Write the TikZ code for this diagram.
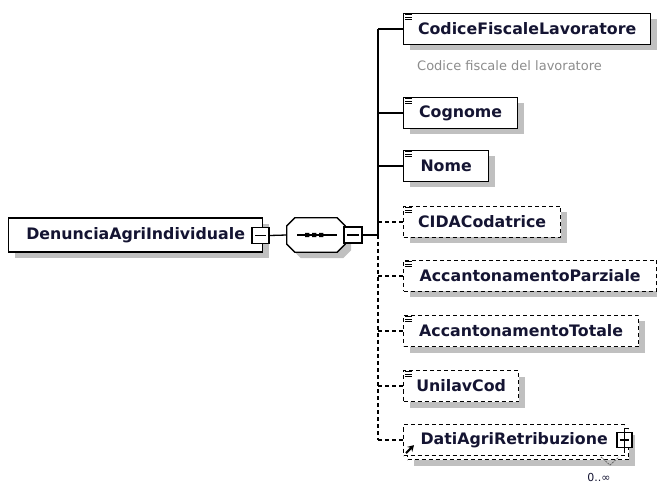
\documentclass[tikz,border=0pt]{standalone}
\usepackage{fontspec}
\setmainfont{DejaVu Sans}
\usetikzlibrary{shadows,arrows.meta}
\definecolor{txt}{RGB}{20,20,50}
\definecolor{desc}{RGB}{140,140,140}
\definecolor{shd}{RGB}{192,192,192}
\newcommand\eqic[1]{\draw[line width=0.8pt, black, shift={(#1.north west)}] (2,2)--(9,2) (2,4.3)--(9,4.3) (2,6.6)--(9,6.6);}
\tikzset{
  ln/.style={line width=1.3pt, black},
  dsh/.style={dash pattern=on 4pt off 3pt},
  shd/.style={drop shadow={shadow xshift=6pt, shadow yshift=-6pt, fill=shd, opacity=1}},
  elemns/.style={draw=black, line width=1.3pt, fill=white, anchor=west, minimum height=31pt,
    inner sep=0pt, text=txt, font=\bfseries\fontsize{15.8}{19}\selectfont},
  elem/.style={elemns, shd},
  opt/.style={elem, dsh},
  optns/.style={elemns, dsh},
  pm/.style={draw=black, line width=1.2pt, fill=white, minimum width=17pt, minimum height=16pt, inner sep=0pt,
    path picture={\draw[line width=1.1pt] ([xshift=3pt]path picture bounding box.west) -- ([xshift=-3pt]path picture bounding box.east);}},
  seqbox/.style={minimum width=58pt, minimum height=34pt, inner sep=0pt}
}
\begin{document}
\begin{tikzpicture}[x=1pt,y=-1pt]
\useasboundingbox (0,0) rectangle (657,484);
\clip (0,0) rectangle (657,484);
% root
\node[elem, minimum width=254pt, minimum height=34pt] (root) at (8,235) {DenunciaAgriIndividuale\hspace{6pt}};
\node[pm] (m1) at (260.5,235.5) {};
\node[seqbox] (seq) at (316,235) {};
\draw[ln, fill=white, shd] ([xshift=8pt]seq.north west) -- ([xshift=-8pt]seq.north east) -- ([yshift=-8pt]seq.north east)
  -- ([yshift=8pt]seq.south east) -- ([xshift=-8pt]seq.south east) -- ([xshift=8pt]seq.south west)
  -- ([yshift=8pt]seq.south west) -- ([yshift=-8pt]seq.north west) -- cycle;
\draw[ln, shift={(seq.center)}] (-19,0) -- (21,0);
\fill[black, shift={(seq.center)}] (-11,-2.2) rectangle (-6.6,2.2) (-4,-2.2) rectangle (0.4,2.2) (3,-2.2) rectangle (7.4,2.2);
\node[pm, minimum width=18pt] (m2) at (353,235) {};
\coordinate (tk) at (378,235);
% children
\node[elem, minimum width=247pt] (cfl) at (403,29) {CodiceFiscaleLavoratore};
\node[anchor=west, text=desc, font=\fontsize{13}{15}\selectfont, inner sep=0pt] (dsc) at (417,66) {Codice fiscale del lavoratore};
\node[elem, minimum width=114pt] (cog) at (403,113) {Cognome};
\node[elem, minimum width=85pt] (nom) at (403,166) {Nome};
\node[opt, minimum width=157pt] (cida) at (403,222) {CIDACodatrice};
\node[opt, minimum width=253pt] (accp) at (403,276) {AccantonamentoParziale};
\node[opt, minimum width=235pt] (acct) at (403,331) {AccantonamentoTotale};
\node[opt, minimum width=115pt] (unil) at (403,386) {UnilavCod};
\node[opt, minimum width=221pt] (datb) at (407,444) {};
\node[optns, minimum width=221pt] (datf) at (403,440) {DatiAgriRetribuzione\hspace{4pt}};
\node[pm, minimum width=15pt, minimum height=15pt] (pl) at (624.5,440) {};
\draw[line width=1.1pt] ([yshift=3pt]pl.north) -- ([yshift=-3pt]pl.south);
\draw[-{Stealth[length=6pt,width=7pt]}, line width=2pt] ([shift={(3,-3)}]datf.south west) -- ([shift={(11,-11)}]datf.south west);
\foreach \n in {cfl,cog,nom,cida,accp,acct,unil} {\eqic{\n}}
% occurrence
\node[text=txt, font=\fontsize{11}{12}\selectfont, inner sep=0pt] (occ) at (599,477) {0..∞};
\coordinate (v1) at (601,457);
\coordinate (v2) at (610,465);
\coordinate (v3) at (619,457);
\draw[black!60, line width=0.8pt, dash pattern=on 2pt off 1pt] (v1) -- (v2) -- (v3);
% connectors
\draw[ln] (m1.east) -- (seq.west);
\draw[ln] (m2.east) -- (tk);
\draw[ln] (tk) -- (tk |- cfl.west);
\draw[ln, dsh] (tk) -- (tk |- datf.west);
\foreach \n in {cfl,cog,nom} {\draw[ln] (tk |- \n.west) -- (\n.west);}
\foreach \n in {cida,accp,acct,unil,datf} {\draw[ln, dsh] (tk |- \n.west) -- (\n.west);}
\end{tikzpicture}
\end{document}
